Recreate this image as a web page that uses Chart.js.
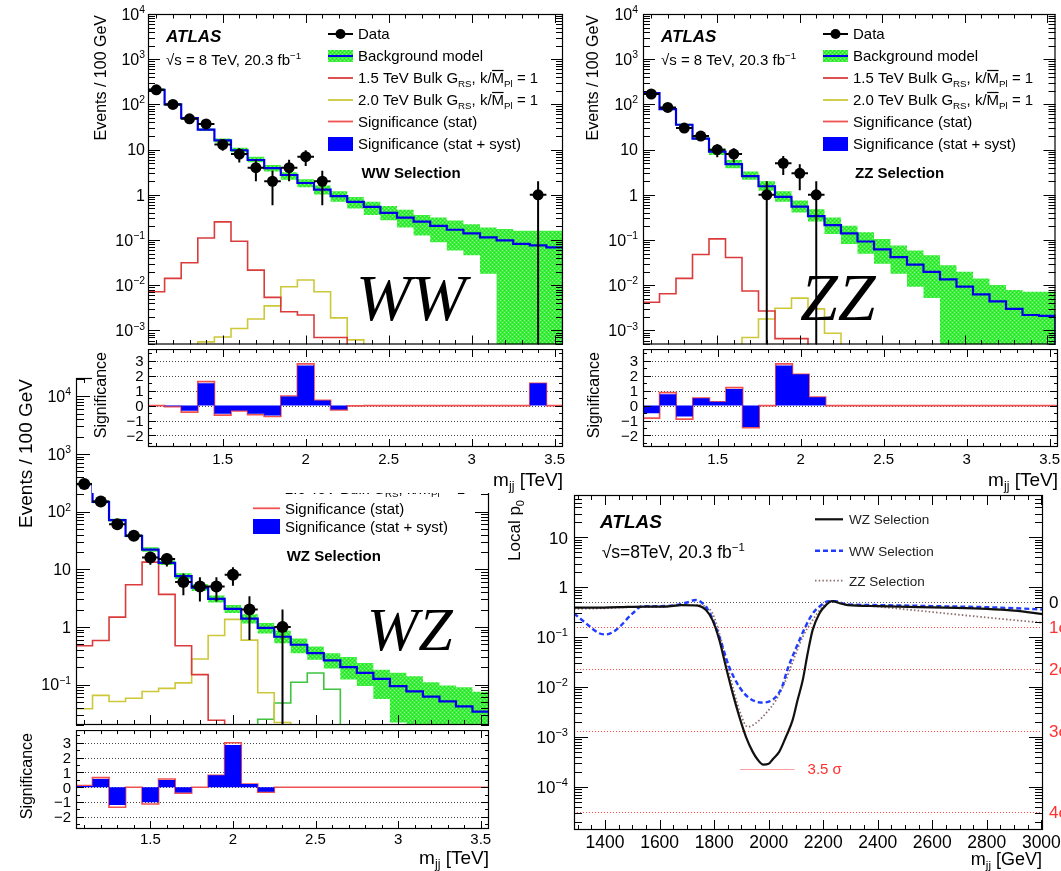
<!DOCTYPE html>
<html>
<head>
<meta charset="utf-8">
<title>Diboson resonance search, √s = 8 TeV</title>
<script src="https://cdn.jsdelivr.net/npm/chart.js@4.4.1/dist/chart.umd.min.js"></script>
<style>
  html, body { margin: 0; padding: 0; background: #fff; }
  #fig { position: relative; width: 1061px; height: 871px; overflow: hidden; background: #fff; }
  #fig canvas { position: absolute; }
</style>
</head>
<body>
<div id="fig">
  <canvas id="wzMain" width="500" height="391" style="left:0px;top:340px"></canvas>
  <canvas id="wzSig" width="500" height="141" style="left:0px;top:730px"></canvas>
  <canvas id="wwMain" width="478" height="350" style="left:92px;top:0px"></canvas>
  <canvas id="wwSig" width="478" height="144" style="left:92px;top:349px"></canvas>
  <canvas id="zzMain" width="491" height="350" style="left:570px;top:0px"></canvas>
  <canvas id="zzSig" width="491" height="144" style="left:570px;top:349px"></canvas>
  <canvas id="p0" width="561" height="378" style="left:500px;top:493px"></canvas>
</div>
<script>
const SANS = '"Liberation Sans", Arial, Helvetica, sans-serif';
const SERIF = '"Liberation Serif", "Times New Roman", serif';

// ---------- dijet mass binning (TeV), 100 GeV bins ----------
const binCenters = [1.1, 1.2, 1.3, 1.4, 1.5, 1.6, 1.7, 1.8, 1.9, 2.0, 2.1, 2.2, 2.3,
                    2.4, 2.5, 2.6, 2.7, 2.8, 2.9, 3.0, 3.1, 3.2, 3.3, 3.4, 3.5];
const binWidth = 0.1;
const massMin = 1.05, massMax = 3.55;

// ---------- tick labels ----------
const massTickValues = [1.5, 2, 2.5, 3, 3.5];
const massTickLabels = ['1.5', '2', '2.5', '3', '3.5'];
const signifTickValues = [3, 2, 1, 0, -1, -2];
const signifTickLabels = ['3', '2', '1', '0', '\u22121', '\u22122'];
const eventsDecadesWWZZ = [4, 3, 2, 1, 0, -1, -2, -3];
const eventsDecadesWZ = [4, 3, 2, 1, 0, -1];
const p0MassTickValues = [1400, 1600, 1800, 2000, 2200, 2400, 2600, 2800, 3000];
const p0Decades = [1, 0, -1, -2, -3, -4];

// ---------- WW selection ----------
const wwData       = [210, 100, 48, 37, 13, 8, 4, 2, 4, 7, 2, 0, 0, 0, 0, 0, 0, 0, 0, 0, 0, 0, 0, 1, 0];
const wwDataErr    = [14.5, 10, 6.9, 6.1, 3.6, 2.8, 2, 1.41, 2, 2.65, 1.41, 0, 0, 0, 0, 0, 0, 0, 0, 0, 0, 0, 0, 1, 0];
const wwBkg        = [210, 100, 50, 27.6, 16.1, 9.7, 5.9, 3.9, 2.75, 1.83, 1.31, 0.94, 0.70, 0.54, 0.40, 0.315,
                      0.257, 0.207, 0.169, 0.141, 0.115, 0.098, 0.082, 0.076, 0.069];
const wwBandLo     = [196, 94, 47, 26, 14.4, 8.7, 5.25, 3.29, 2.16, 1.47, 1.02, 0.70, 0.50, 0.36, 0.275, 0.19,
                      0.126, 0.089, 0.059, 0.046, 0.018, 0, 0, 0, 0];
const wwBandHi     = [225, 106, 53, 29.5, 17.6, 11.0, 7.0, 4.59, 3.18, 2.2, 1.6, 1.2, 0.9, 0.7, 0.57, 0.47,
                      0.36, 0.315, 0.27, 0.225, 0.19, 0.175, 0.16, 0.16, 0.16];
const wwGrav15     = [0.0072, 0.0142, 0.0316, 0.111, 0.253, 0.094, 0.0216, 0.0054, 0.0026, 0.0022, 0.0007, 0.0007,
                      0, 0, 0, 0, 0, 0, 0, 0, 0, 0, 0, 0, 0];
const wwGrav20     = [0, 0, 0, 0.00056, 0.00072, 0.00111, 0.0018, 0.0035, 0.0093, 0.0131, 0.0072, 0.0019, 0.00062,
                      0, 0, 0, 0, 0, 0, 0, 0, 0, 0, 0, 0];
const wwSignifStat = [0, -0.07, -0.44, 1.6, -0.64, -0.35, -0.6, -0.73, 0.64, 2.78, 0.35, -0.29, -0.02,
                      0, 0, 0, 0, 0, 0, 0, 0, 0, 0, 1.49, 0];
const wwSignifSyst = [0, -0.05, -0.35, 1.49, -0.55, -0.33, -0.55, -0.67, 0.6, 2.67, 0.33, -0.27, 0,
                      0, 0, 0, 0, 0, 0, 0, 0, 0, 0, 1.49, 0];

// ---------- ZZ selection ----------
const zzData       = [170, 86, 30, 20, 10, 8, 0, 1, 5, 3, 1, 0, 0, 0, 0, 0, 0, 0, 0, 0, 0, 0, 0, 0, 0];
const zzDataErr    = [13, 9.3, 5.5, 4.5, 3.2, 2.8, 0, 1, 2.24, 1.73, 1, 0, 0, 0, 0, 0, 0, 0, 0, 0, 0, 0, 0, 0, 0];
const zzBkg        = [177, 79, 35.5, 17.6, 9.0, 4.8, 2.6, 1.55, 0.90, 0.55, 0.34, 0.214, 0.141, 0.093, 0.062,
                      0.042, 0.0286, 0.0198, 0.0135, 0.0093, 0.0063, 0.0044, 0.0030, 0.0022, 0.0021];
const zzBandLo     = [168, 75, 33.5, 16.5, 7.6, 3.9, 2.16, 1.24, 0.70, 0.405, 0.257, 0.136, 0.082, 0.050, 0.030,
                      0.018, 0.0093, 0.0052, 0, 0, 0, 0, 0, 0, 0];
const zzBandHi     = [186, 83, 37.5, 18.8, 10.6, 5.9, 3.29, 2.0, 1.2, 0.75, 0.48, 0.315, 0.207, 0.148, 0.106,
                      0.076, 0.059, 0.046, 0.0277, 0.0198, 0.0142, 0.0102, 0.0079, 0.0072, 0.0072];
const zzGrav15     = [0.0042, 0.0065, 0.0142, 0.048, 0.106, 0.041, 0.0075, 0.0027, 0.00066, 0.00066,
                      0, 0, 0, 0, 0, 0, 0, 0, 0, 0, 0, 0, 0, 0, 0];
const zzGrav20     = [0, 0, 0, 0, 0, 0, 0.0007, 0.0018, 0.0031, 0.0052, 0.0030, 0.00087,
                      0, 0, 0, 0, 0, 0, 0, 0, 0, 0, 0, 0, 0];
const zzSignifStat = [-0.84, 0.87, -0.91, 0.49, 0.25, 1.2, -1.48, 0, 2.78, 2.09, 0.56, 0,
                      0, 0, 0, 0, 0, 0, 0, 0, 0, 0, 0, 0, 0];
const zzSignifSyst = [-0.51, 0.76, -0.73, 0.49, 0.25, 1.11, -1.44, 0, 2.67, 2.09, 0.56, 0,
                      0, 0, 0, 0, 0, 0, 0, 0, 0, 0, 0, 0, 0];

// ---------- WZ selection ----------
const wzData       = [300, 150, 60, 38, 16, 15, 6, 5, 5, 8, 2, 0, 1, 0, 0, 0, 0, 0, 0, 0, 0, 0, 0, 0, 0];
const wzDataErr    = [17.3, 12.2, 7.7, 6.2, 4, 3.9, 2.45, 2.24, 2.24, 2.83, 1.41, 0, 1, 0, 0, 0, 0, 0, 0, 0, 0, 0, 0, 0, 0];
const wzBkg        = [300, 147, 71, 38, 21.8, 12.9, 7.6, 4.8, 3.05, 2.05, 1.39, 0.96, 0.675, 0.49, 0.35,
                      0.262, 0.20, 0.159, 0.126, 0.094, 0.076, 0.062, 0.051, 0.042, 0.034];
const wzBandLo     = [285, 140, 67, 36, 20, 11.8, 6.8, 4.2, 2.65, 1.75, 1.15, 0.77, 0.52, 0.35, 0.27,
                      0.19, 0.122, 0.094, 0.056, 0.022, 0, 0, 0, 0, 0];
const wzBandHi     = [315, 155, 75, 40.5, 24, 14.2, 8.5, 5.5, 3.5, 2.4, 1.65, 1.17, 0.86, 0.63, 0.455,
                      0.35, 0.30, 0.236, 0.18, 0.16, 0.14, 0.11, 0.096, 0.09, 0.075];
const wzGrav15     = [0.47, 0.58, 1.48, 5.37, 13.3, 3.66, 0.47, 0.149, 0.024, 0,
                      0, 0, 0, 0, 0, 0, 0, 0, 0, 0, 0, 0, 0, 0, 0];
const wzGrav20     = [0.038, 0.065, 0.051, 0.058, 0.076, 0.086, 0.107, 0.277, 0.71, 1.35, 0.59, 0.072, 0.022,
                      0, 0, 0, 0, 0, 0, 0, 0, 0, 0, 0, 0];
const wzGrav25     = [0, 0, 0, 0, 0, 0, 0, 0, 0, 0, 0, 0.025, 0.048, 0.11, 0.159, 0.083,
                      0, 0, 0, 0, 0, 0, 0, 0, 0];
const wzSignifStat = [0.12, 0.65, -1.35, 0, -1.13, 0.56, -0.4, 0, 0.81, 3.01, 0.22, -0.33,
                      0, 0, 0, 0, 0, 0, 0, 0, 0, 0, 0, 0, 0];
const wzSignifSyst = [0.08, 0.56, -1.2, 0, -1.01, 0.49, -0.36, 0, 0.81, 2.86, 0.22, -0.3,
                      0, 0, 0, 0, 0, 0, 0, 0, 0, 0, 0, 0, 0];

// ---------- local p0 scan (GeV) ----------
const p0MassWZ = [1286, 1350, 1450, 1550, 1620, 1680, 1740, 1770, 1794, 1819, 1843, 1868, 1892, 1917, 1941,
                  1960, 1980, 2000, 2015, 2039, 2063, 2088, 2106, 2125, 2143, 2161, 2186, 2210, 2232, 2260,
                  2290, 2400, 2550, 2650, 2800, 2900, 3006];
const p0WZ     = [0.39, 0.39, 0.40, 0.41, 0.41, 0.44, 0.43, 0.35, 0.22, 0.088, 0.0256, 0.0075, 0.0026, 0.0010,
                  0.00051, 0.00035, 0.00028, 0.00029, 0.00036, 0.00051, 0.0010, 0.0022, 0.0055, 0.0139, 0.0476,
                  0.139, 0.30, 0.44, 0.53, 0.48, 0.44, 0.42, 0.40, 0.39, 0.37, 0.34, 0.29];
const p0MassWW = [1286, 1330, 1378, 1403, 1440, 1501, 1537, 1600, 1660, 1696, 1733, 1757, 1782, 1819, 1855,
                  1892, 1929, 1978, 2027, 2050, 2069, 2100, 2134, 2160, 2186, 2222, 2245, 2280, 2400, 2600,
                  2800, 3006];
const p0WW     = [0.30, 0.19, 0.12, 0.114, 0.14, 0.30, 0.42, 0.42, 0.44, 0.49, 0.556, 0.48, 0.32, 0.102,
                  0.0256, 0.0102, 0.006, 0.0049, 0.0064, 0.0105, 0.0228, 0.06, 0.159, 0.29, 0.41, 0.53, 0.53,
                  0.46, 0.44, 0.42, 0.40, 0.36];
const p0MassZZ = [1286, 1400, 1500, 1600, 1680, 1740, 1770, 1794, 1819, 1843, 1868, 1892, 1923, 1953, 1990,
                  2027, 2058, 2088, 2125, 2161, 2198, 2216, 2235, 2284, 2400, 2528, 2650, 2773, 2900, 3006];
const p0ZZ     = [0.37, 0.38, 0.40, 0.40, 0.44, 0.44, 0.41, 0.30, 0.12, 0.035, 0.0102, 0.0035, 0.0016, 0.0019,
                  0.003, 0.0055, 0.012, 0.032, 0.102, 0.22, 0.41, 0.49, 0.515, 0.46, 0.41, 0.35, 0.30, 0.257,
                  0.22, 0.195];
const sigmaLabels  = ['0', '1\u03c3', '2\u03c3', '3\u03c3', '4\u03c3'];
const sigmaPValues = [0.5, 0.1587, 0.02275, 0.00135, 3.17e-5];
const sigma35P = 2.33e-4;
const sigma35Mass = [1895, 2095];

// ---------- styling ----------
const BKG_BLUE = '#0000e6';
const SYST_BLUE = '#0000ff';
const STAT_RED = '#f05252';
const RED = '#db3b3b';
const YELLOW = '#cdc83a';
const GREEN_SIG = '#3ec43e';
const LOG_FLOOR = 1e-9;
// histogram outline: horizontal at each bin's value, vertical at the bin edges
const STEP = 'before';

const bandPattern = (() => {
  const c = document.createElement('canvas');
  c.width = 4; c.height = 4;
  const g = c.getContext('2d');
  g.fillStyle = '#3cef3c'; g.fillRect(0, 0, 4, 4);
  g.fillStyle = '#8efb8e'; g.fillRect(0, 0, 1, 1); g.fillRect(2, 2, 1, 1);
  g.fillStyle = '#26dc26'; g.fillRect(2, 0, 1, 1); g.fillRect(0, 2, 1, 1);
  return g.createPattern(c, 'repeat');
})();

const gravText = (m) => [[m + ' TeV Bulk G', ''], ['RS', 'sub'], [', k/', ''], ['M', 'bar'], ['Pl', 'sub'], [' = 1', '']];
const legendEntries = [
  { kind: 'data', text: [['Data', '']] },
  { kind: 'band', text: [['Background model', '']] },
  { kind: 'line', color: RED, text: gravText('1.5') },
  { kind: 'line', color: YELLOW, text: gravText('2.0') },
  { kind: 'line', color: STAT_RED, text: [['Significance (stat)', '']] },
  { kind: 'box', color: SYST_BLUE, text: [['Significance (stat + syst)', '']] }
];

// ---------- helpers ----------
function stepPoints(vals, floor, dropEnd) {
  const n = binCenters.length;
  const v = (i) => (floor && !(vals[i] > 0)) ? floor : vals[i];
  const pts = binCenters.map((c, i) => ({ x: c - binWidth / 2, y: v(i) }));
  pts.push({ x: binCenters[n - 1] + binWidth / 2, y: v(n - 1) });
  if (dropEnd) pts.push({ x: binCenters[n - 1] + binWidth / 2, y: floor });
  return pts;
}

function rich(ctx, x, y, segs, size, align, opt) {
  opt = opt || {};
  const font = (s) => `${opt.style || 'normal'} ${opt.weight || 'normal'} ${s}px ${opt.family || SANS}`;
  const parts = segs.map(([t, k]) => {
    const s = (k === 'sup' || k === 'sub') ? size * 0.65 : size;
    ctx.font = font(s);
    return { t, k, s, w: ctx.measureText(t).width };
  });
  const total = parts.reduce((acc, p) => acc + p.w, 0);
  let cx = align === 'right' ? x - total : align === 'center' ? x - total / 2 : x;
  ctx.fillStyle = opt.color || '#000';
  ctx.textAlign = 'left';
  ctx.textBaseline = 'alphabetic';
  parts.forEach(p => {
    ctx.font = font(p.s);
    const dy = p.k === 'sup' ? -size * 0.42 : p.k === 'sub' ? size * 0.22 : 0;
    ctx.fillText(p.t, cx, y + dy);
    if (p.k === 'bar') ctx.fillRect(cx + 0.5, y - size * 0.9, p.w - 1, Math.max(1, size * 0.08));
    cx += p.w;
  });
  return total;
}

function vText(ctx, cx, topY, segs, size) {
  ctx.save();
  ctx.translate(cx, topY);
  ctx.rotate(-Math.PI / 2);
  rich(ctx, 0, size * 0.36, segs, size, 'right');
  ctx.restore();
}

function decadeLabel(e) {
  if (e === 0) return [['1', '']];
  if (e === 1) return [['10', '']];
  return [['10', ''], [e < 0 ? '\u2212' + (-e) : String(e), 'sup']];
}

function massTicks(maj, min) {
  const out = [];
  for (let k = 11; k <= 35; k++) out.push([k / 10, k % 5 === 0 ? maj : min]);
  return out;
}
function logTicks(lo, hi, maj, min) {
  const out = [];
  for (let e = Math.floor(Math.log10(lo)); e <= Math.ceil(Math.log10(hi)); e++) {
    for (let m = 1; m <= 9; m++) {
      const v = m * Math.pow(10, e);
      if (v >= lo * 0.999 && v <= hi * 1.001) out.push([v, m === 1 ? maj : min]);
    }
  }
  return out;
}
function halfTicks(lo, hi, maj, min) {
  const out = [];
  for (let k = Math.ceil(lo * 2); k <= Math.floor(hi * 2); k++) out.push([k / 2, k % 2 === 0 ? maj : min]);
  return out;
}
function p0Ticks(maj, min) {
  const out = [];
  for (let m = 1300; m <= 3000; m += 50) out.push([m, m % 200 === 0 ? maj : min]);
  return out;
}

function drawFrame(chart, xTicks, yTicks) {
  const { ctx, chartArea: a, scales } = chart;
  ctx.save();
  ctx.strokeStyle = '#000';
  ctx.lineWidth = 1;
  ctx.beginPath();
  xTicks.forEach(([v, len]) => {
    const p = Math.round(scales.x.getPixelForValue(v)) + 0.5;
    ctx.moveTo(p, a.bottom); ctx.lineTo(p, a.bottom - len);
    ctx.moveTo(p, a.top); ctx.lineTo(p, a.top + len);
  });
  yTicks.forEach(([v, len]) => {
    const p = Math.round(scales.y.getPixelForValue(v)) + 0.5;
    ctx.moveTo(a.left, p); ctx.lineTo(a.left + len, p);
    ctx.moveTo(a.right, p); ctx.lineTo(a.right - len, p);
  });
  ctx.stroke();
  ctx.lineWidth = 1.2;
  ctx.strokeRect(a.left + 0.5, a.top + 0.5, a.right - a.left - 1, a.bottom - a.top - 1);
  ctx.restore();
}

function whiteBackground(chart) {
  const { ctx, width, height } = chart;
  ctx.save();
  ctx.fillStyle = '#fff';
  ctx.fillRect(0, 0, width, height);
  ctx.restore();
}

function drawErrorBars(chart, vals, errs, lw) {
  const { ctx, chartArea: a, scales: { x, y } } = chart;
  ctx.save();
  ctx.beginPath();
  ctx.rect(a.left, a.top, a.right - a.left, a.bottom - a.top);
  ctx.clip();
  ctx.strokeStyle = '#000';
  ctx.lineWidth = lw;
  ctx.beginPath();
  binCenters.forEach((c, i) => {
    const n = vals[i];
    if (!(n > 0)) return;
    const px = x.getPixelForValue(c);
    const py = y.getPixelForValue(n);
    const lo = n - errs[i];
    const pLo = lo > 0 ? y.getPixelForValue(lo) : a.bottom;
    const pHi = y.getPixelForValue(n + errs[i]);
    ctx.moveTo(px, pLo); ctx.lineTo(px, pHi);
    ctx.moveTo(x.getPixelForValue(c - binWidth / 2), py);
    ctx.lineTo(x.getPixelForValue(c + binWidth / 2), py);
  });
  ctx.stroke();
  ctx.restore();
}

function drawLegend(ctx, L) {
  L.rows.forEach((r, i) => {
    const cy = L.centers[i];
    const xm = (L.x0 + L.x1) / 2;
    ctx.save();
    if (r.kind === 'data') {
      ctx.strokeStyle = '#000'; ctx.lineWidth = 2;
      ctx.beginPath(); ctx.moveTo(L.x0, cy); ctx.lineTo(L.x1, cy); ctx.stroke();
      ctx.fillStyle = '#000';
      ctx.beginPath(); ctx.arc(xm, cy, 5, 0, Math.PI * 2); ctx.fill();
    } else if (r.kind === 'band') {
      ctx.fillStyle = bandPattern;
      ctx.fillRect(L.x0, cy - L.half, L.x1 - L.x0, 2 * L.half);
      ctx.strokeStyle = BKG_BLUE; ctx.lineWidth = 2;
      ctx.beginPath(); ctx.moveTo(L.x0, cy); ctx.lineTo(L.x1, cy); ctx.stroke();
    } else if (r.kind === 'line') {
      ctx.strokeStyle = r.color; ctx.lineWidth = 1.8;
      ctx.beginPath(); ctx.moveTo(L.x0, cy); ctx.lineTo(L.x1, cy); ctx.stroke();
    } else if (r.kind === 'box') {
      ctx.fillStyle = r.color;
      ctx.fillRect(L.x0, cy - L.half - 1, L.x1 - L.x0, 2 * L.half + 2);
    }
    ctx.restore();
    rich(ctx, L.tx, cy + L.font * 0.36, r.text, L.font, 'left');
  });
}

const baseOptions = (pad, yScale) => ({
  responsive: false,
  animation: false,
  devicePixelRatio: 1,
  events: [],
  layout: { padding: pad },
  plugins: { legend: { display: false }, tooltip: { enabled: false } },
  scales: {
    x: { type: 'linear', min: massMin, max: massMax, display: false, bounds: 'data' },
    y: Object.assign({ display: false, bounds: 'data' }, yScale)
  }
});

// ---------- upper panels: event yields ----------
function histogramPanel(id, s) {
  const dataPts = [];
  binCenters.forEach((c, i) => { if (s.data[i] > 0) dataPts.push({ x: c, y: s.data[i] }); });
  const datasets = [
    { label: 'Data', data: dataPts, showLine: false, pointRadius: s.markerR, pointHoverRadius: s.markerR,
      pointBackgroundColor: '#000', pointBorderColor: '#000', pointBorderWidth: 0, borderColor: '#000' },
    { label: 'Background model', data: stepPoints(s.bkg, LOG_FLOOR, true), borderColor: BKG_BLUE,
      borderWidth: 2.2, stepped: STEP, pointRadius: 0, fill: false },
    { label: 'Background uncertainty', data: stepPoints(s.bandHi, LOG_FLOOR), borderColor: 'rgba(0,0,0,0)',
      borderWidth: 0, stepped: STEP, pointRadius: 0, fill: '+1', backgroundColor: bandPattern },
    { label: 'Background uncertainty (low)', data: stepPoints(s.bandLo, LOG_FLOOR), borderColor: 'rgba(0,0,0,0)',
      borderWidth: 0, stepped: STEP, pointRadius: 0, fill: false }
  ];
  s.signals.forEach(sig => datasets.push({
    label: sig.label, data: stepPoints(sig.vals, LOG_FLOOR, true), borderColor: sig.color,
    borderWidth: 1.6, stepped: STEP, pointRadius: 0, fill: false
  }));

  return new Chart(document.getElementById(id), {
    type: 'line',
    data: { datasets },
    options: baseOptions(s.pad, { type: 'logarithmic', min: s.yMin, max: s.yMax }),
    plugins: [{
      id: 'decor',
      beforeDraw(chart) { if (s.white) whiteBackground(chart); },
      beforeDatasetDraw(chart, args) { if (args.index === 0) drawErrorBars(chart, s.data, s.err, 2); },
      afterDraw(chart) {
        const { ctx, chartArea: a, scales: { y } } = chart;
        drawFrame(chart, massTicks(s.xTickLen[0], s.xTickLen[1]),
                  logTicks(s.yMin, s.yMax, s.yTickLen[0], s.yTickLen[1]));
        s.decades.forEach(e => {
          const p = y.getPixelForValue(Math.pow(10, e));
          rich(ctx, a.left - s.labelGap, p + s.tickFont * 0.36, decadeLabel(e), s.tickFont, 'right');
        });
        vText(ctx, a.left + s.yTitleDx, a.top + 1, [['Events / 100 GeV', '']], s.yTitleFont);
        s.annotate(ctx, a);
      }
    }]
  });
}

// ---------- lower panels: significance ----------
function significancePanel(id, s) {
  const datasets = [
    { label: 'Significance (stat + syst)', data: stepPoints(s.syst), borderColor: 'rgba(0,0,0,0)', borderWidth: 0,
      backgroundColor: SYST_BLUE, fill: 'origin', stepped: STEP, pointRadius: 0 },
    { label: 'Significance (stat)', data: stepPoints(s.stat), borderColor: STAT_RED, borderWidth: 1.7,
      fill: false, stepped: STEP, pointRadius: 0 }
  ];
  return new Chart(document.getElementById(id), {
    type: 'line',
    data: { datasets },
    options: baseOptions(s.pad, { type: 'linear', min: s.yMin, max: s.yMax }),
    plugins: [{
      id: 'decor',
      beforeDraw(chart) { if (s.white) whiteBackground(chart); },
      beforeDatasetsDraw(chart) {
        const { ctx, chartArea: a, scales: { y } } = chart;
        ctx.save();
        ctx.strokeStyle = '#444'; ctx.lineWidth = 1; ctx.setLineDash([1, 2]);
        ctx.beginPath();
        signifTickValues.forEach(v => {
          const p = Math.round(y.getPixelForValue(v)) + 0.5;
          ctx.moveTo(a.left, p); ctx.lineTo(a.right, p);
        });
        ctx.stroke();
        ctx.restore();
      },
      afterDraw(chart) {
        const { ctx, chartArea: a, scales: { x, y } } = chart;
        drawFrame(chart, massTicks(8, 4), halfTicks(s.yMin, s.yMax, 8, 4));
        signifTickValues.forEach((v, i) => {
          rich(ctx, a.left - s.labelGap, y.getPixelForValue(v) + 15 * 0.36, [[signifTickLabels[i], '']], 15, 'right');
        });
        massTickValues.forEach((v, i) => {
          rich(ctx, x.getPixelForValue(v), a.bottom + s.xLabelDy, [[massTickLabels[i], '']], 15, 'center');
        });
        rich(ctx, a.right, a.bottom + s.xTitleDy, [['m', ''], ['jj', 'sub'], [' [TeV]', '']], 19, 'right');
        vText(ctx, a.left + s.yTitleDx, a.top + 3, [['Significance', '']], 16);
      }
    }]
  });
}

// ---------- annotations of the 8 TeV panels ----------
function atlasLabel(ctx, a) {
  rich(ctx, a.left + 18, a.top + 27.7, [['ATLAS', '']], 17, 'left', { weight: 'bold', style: 'italic' });
  rich(ctx, a.left + 18, a.top + 51, [['\u221as = 8 TeV, 20.3 fb', ''], ['\u22121', 'sup']], 15, 'left');
}
function bigLabel(ctx, text, x, y, size) {
  ctx.save();
  ctx.font = `italic ${size}px ${SERIF}`;
  ctx.fillStyle = '#000';
  ctx.textAlign = 'left';
  ctx.textBaseline = 'alphabetic';
  ctx.fillText(text, x, y);
  ctx.restore();
}
const upperLegend = (a) => ({
  x0: a.left + 180, x1: a.left + 205, tx: a.left + 210, font: 15, half: 6, rows: legendEntries,
  centers: [20, 42, 64, 86, 107.5, 130].map(v => a.top + v)
});

// WZ (drawn first, partly covered by the WW panel)
histogramPanel('wzMain', {
  data: wzData, err: wzDataErr, bkg: wzBkg, bandLo: wzBandLo, bandHi: wzBandHi,
  signals: [
    { label: '1.5 TeV Bulk G', vals: wzGrav15, color: RED },
    { label: '2.0 TeV Bulk G', vals: wzGrav20, color: YELLOW },
    { label: '2.5 TeV Bulk G', vals: wzGrav25, color: GREEN_SIG }
  ],
  yMin: 0.0199, yMax: 2.07e4, pad: { left: 76, top: 38, right: 11, bottom: 1 },
  markerR: 6, decades: eventsDecadesWZ, tickFont: 16, labelGap: 5,
  xTickLen: [10, 5], yTickLen: [14, 8], yTitleDx: -51, yTitleFont: 19, white: false,
  annotate(ctx, a) {
    drawLegend(ctx, {
      x0: a.left + 177, x1: a.left + 204, tx: a.left + 209, font: 15, half: 6.5, rows: legendEntries,
      centers: [55, 73.5, 92, 110.5, 130.3, 148.5].map(v => a.top + v)
    });
    rich(ctx, a.left + 210.7, a.top + 182.5, [['WZ Selection', '']], 15, 'left', { weight: 'bold' });
    bigLabel(ctx, 'WZ', a.left + 290.7, a.top + 272, 62);
  }
});
significancePanel('wzSig', {
  stat: wzSignifStat, syst: wzSignifSyst, yMin: -2.82, yMax: 3.87,
  pad: { left: 76, top: 0, right: 11, bottom: 42 }, labelGap: 5, xLabelDy: 15, xTitleDy: 35, yTitleDx: -50,
  white: false
});

// WW
histogramPanel('wwMain', {
  data: wwData, err: wwDataErr, bkg: wwBkg, bandLo: wwBandLo, bandHi: wwBandHi,
  signals: [
    { label: '1.5 TeV Bulk G', vals: wwGrav15, color: RED },
    { label: '2.0 TeV Bulk G', vals: wwGrav20, color: YELLOW }
  ],
  yMin: 4.9e-4, yMax: 1e4, pad: { left: 56, top: 14, right: 7, bottom: 1 },
  markerR: 5.5, decades: eventsDecadesWWZZ, tickFont: 16, labelGap: 3,
  xTickLen: [9, 4.5], yTickLen: [12, 7], yTitleDx: -48, yTitleFont: 16, white: true,
  annotate(ctx, a) {
    atlasLabel(ctx, a);
    drawLegend(ctx, upperLegend(a));
    rich(ctx, a.left + 213.5, a.top + 164, [['WW Selection', '']], 15, 'left', { weight: 'bold' });
    bigLabel(ctx, 'WW', a.left + 208, a.top + 306, 66);
  }
});
significancePanel('wwSig', {
  stat: wwSignifStat, syst: wwSignifSyst, yMin: -2.77, yMax: 3.78,
  pad: { left: 56, top: 0, right: 7, bottom: 46 }, labelGap: 4.5, xLabelDy: 17, xTitleDy: 39, yTitleDx: -48,
  white: true
});

// ZZ
histogramPanel('zzMain', {
  data: zzData, err: zzDataErr, bkg: zzBkg, bandLo: zzBandLo, bandHi: zzBandHi,
  signals: [
    { label: '1.5 TeV Bulk G', vals: zzGrav15, color: RED },
    { label: '2.0 TeV Bulk G', vals: zzGrav20, color: YELLOW }
  ],
  yMin: 4.9e-4, yMax: 1e4, pad: { left: 73, top: 14, right: 3, bottom: 1 },
  markerR: 5.5, decades: eventsDecadesWWZZ, tickFont: 16, labelGap: 5,
  xTickLen: [9, 4.5], yTickLen: [12, 7], yTitleDx: -51, yTitleFont: 16, white: true,
  annotate(ctx, a) {
    atlasLabel(ctx, a);
    drawLegend(ctx, upperLegend(a));
    rich(ctx, a.left + 212, a.top + 164, [['ZZ Selection', '']], 15, 'left', { weight: 'bold' });
    bigLabel(ctx, 'ZZ', a.left + 157, a.top + 306, 68);
  }
});
significancePanel('zzSig', {
  stat: zzSignifStat, syst: zzSignifSyst, yMin: -2.77, yMax: 3.78,
  pad: { left: 73, top: 0, right: 3, bottom: 46 }, labelGap: 5, xLabelDy: 17, xTitleDy: 39, yTitleDx: -50,
  white: true
});

// ---------- local p0 scan ----------
const p0Curve = (label, mass, vals, color, width, dash) => ({
  label, data: mass.map((m, i) => ({ x: m, y: vals[i] })), borderColor: color, borderWidth: width,
  borderDash: dash, pointRadius: 0, fill: false, cubicInterpolationMode: 'monotone'
});
const p0Styles = [
  { text: 'WZ Selection', color: '#111', width: 2.2, dash: [] },
  { text: 'WW Selection', color: '#1f3cff', width: 2.4, dash: [5, 3] },
  { text: 'ZZ Selection', color: '#8d6d6d', width: 1.8, dash: [1.5, 2.2] }
];

new Chart(document.getElementById('p0'), {
  type: 'line',
  data: {
    datasets: [
      p0Curve('WZ Selection', p0MassWZ, p0WZ, p0Styles[0].color, p0Styles[0].width, p0Styles[0].dash),
      p0Curve('WW Selection', p0MassWW, p0WW, p0Styles[1].color, p0Styles[1].width, p0Styles[1].dash),
      p0Curve('ZZ Selection', p0MassZZ, p0ZZ, p0Styles[2].color, p0Styles[2].width, p0Styles[2].dash)
    ]
  },
  options: (() => {
    const o = baseOptions({ left: 74, top: 2, right: 18, bottom: 41 }, { type: 'logarithmic', min: 1.37e-5, max: 70.8 });
    o.scales.x.min = 1286;
    o.scales.x.max = 3006;
    return o;
  })(),
  plugins: [{
    id: 'decor',
    beforeDraw(chart) { whiteBackground(chart); },
    beforeDatasetsDraw(chart) {
      const { ctx, chartArea: a, scales: { x, y } } = chart;
      ctx.save();
      ctx.lineWidth = 1;
      ctx.setLineDash([1, 2]);
      sigmaPValues.forEach((p, i) => {
        const py = Math.round(y.getPixelForValue(p)) + 0.5;
        ctx.strokeStyle = i === 0 ? '#555' : '#ff4a4a';
        ctx.beginPath(); ctx.moveTo(a.left, py); ctx.lineTo(a.right, py); ctx.stroke();
      });
      ctx.setLineDash([]);
      ctx.strokeStyle = 'rgba(255,150,150,0.9)';
      const p35 = Math.round(y.getPixelForValue(sigma35P)) + 0.5;
      ctx.beginPath();
      ctx.moveTo(x.getPixelForValue(sigma35Mass[0]), p35);
      ctx.lineTo(x.getPixelForValue(sigma35Mass[1]), p35);
      ctx.stroke();
      ctx.restore();
    },
    afterDraw(chart) {
      const { ctx, chartArea: a, scales: { x, y } } = chart;
      drawFrame(chart, p0Ticks(10, 5), logTicks(1.37e-5, 70.8, 14, 8));
      p0Decades.forEach(e => {
        rich(ctx, a.left - 6, y.getPixelForValue(Math.pow(10, e)) + 17 * 0.36, decadeLabel(e), 17, 'right');
      });
      p0MassTickValues.forEach(v => {
        rich(ctx, x.getPixelForValue(v), a.bottom + 18, [[String(v), '']], 17.5, 'center');
      });
      rich(ctx, a.right - 1, a.bottom + 35, [['m', ''], ['jj', 'sub'], [' [GeV]', '']], 18, 'right');
      vText(ctx, a.left - 60, a.top + 5, [['Local p', ''], ['0', 'sub']], 17);
      // significance levels
      sigmaPValues.forEach((p, i) => {
        rich(ctx, a.right + 6, y.getPixelForValue(p) + 17 * 0.36, [[sigmaLabels[i], '']], 17, 'left',
             { color: i === 0 ? '#000' : '#ff3030' });
      });
      rich(ctx, x.getPixelForValue(sigma35Mass[1]) + 13, y.getPixelForValue(sigma35P) + 15 * 0.36,
           [['3.5 \u03c3', '']], 15, 'left', { color: '#ff3030' });
      // labels and legend
      rich(ctx, a.left + 26, a.top + 33.3, [['ATLAS', '']], 19, 'left', { weight: 'bold', style: 'italic' });
      rich(ctx, a.left + 27.7, a.top + 63, [['\u221as=8TeV, 20.3 fb', ''], ['\u22121', 'sup']], 17.5, 'left');
      [24.3, 55.7, 85.7].forEach((dy, i) => {
        const st = p0Styles[i];
        const cy = a.top + dy;
        ctx.save();
        ctx.strokeStyle = st.color; ctx.lineWidth = st.width; ctx.setLineDash(st.dash);
        ctx.beginPath(); ctx.moveTo(a.left + 241, cy); ctx.lineTo(a.left + 269, cy); ctx.stroke();
        ctx.restore();
        rich(ctx, a.left + 275, cy + 13.5 * 0.36, [[st.text, '']], 13.5, 'left', { color: '#222' });
      });
    }
  }]
});
</script>
</body>
</html>
